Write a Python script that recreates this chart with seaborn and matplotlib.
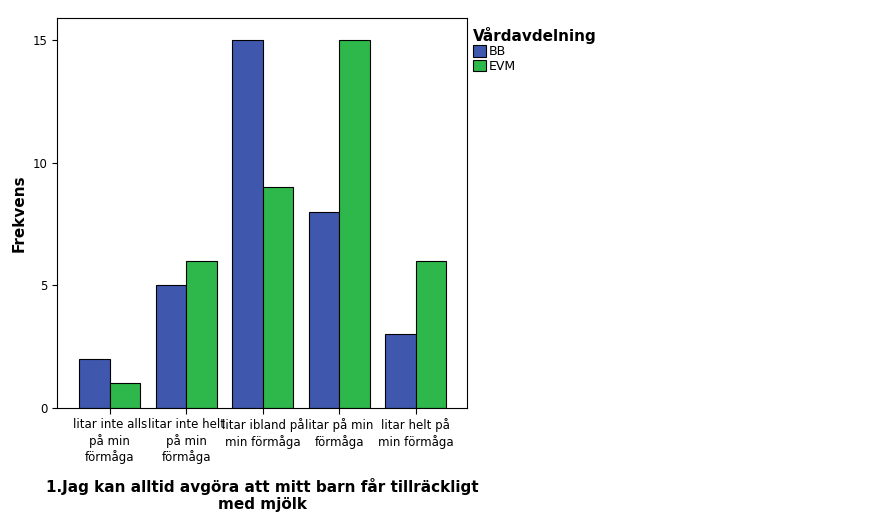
import matplotlib
matplotlib.use("Agg")
import matplotlib.pyplot as plt
import seaborn as sns
import pandas as pd
from matplotlib.patches import Patch

categories = ["litar inte alls\npå min\nförmåga", "litar inte helt\npå min\nförmåga",
              "litar ibland på\nmin förmåga", "litar på min\nförmåga", "litar helt på\nmin förmåga"]
bb = [2, 5, 15, 8, 3]
evm = [1, 6, 9, 15, 6]
series = ["BB", "EVM"]
colors = ["#3F58AE", "#2EB84B"]

df = pd.DataFrame({"cat": categories * 2, "val": bb + evm,
                   "grp": ["BB"] * 5 + ["EVM"] * 5})

fig = plt.figure(figsize=(8.76, 5.13), dpi=100)
ax = fig.add_axes([57/876, 1-408/513, 410/876, 390/513])
sns.barplot(data=df, x="cat", y="val", hue="grp", palette=colors, width=0.8,
            edgecolor="black", linewidth=0.8, ax=ax, legend=False, saturation=1)
ax.set_xlim(-0.69, 4.67)
ax.set_ylim(0, 15.9)
ax.set_yticks([0, 5, 10, 15])
ax.tick_params(axis="both", labelsize=8.5)
ax.tick_params(axis="x", length=4)
ax.set_xlabel("1.Jag kan alltid avgöra att mitt barn får tillräckligt\nmed mjölk",
              fontsize=11, fontweight="bold", labelpad=10)
ax.set_ylabel("Frekvens", fontsize=11, fontweight="bold")
for s in ax.spines.values():
    s.set_linewidth(0.8)
handles = [Patch(facecolor=c, edgecolor="black", linewidth=0.8) for c in colors]
leg = fig.legend(handles, series, title="Vårdavdelning", loc="upper left",
                 bbox_to_anchor=(468/876, 1-22/513), frameon=False, fontsize=9,
                 handlelength=1.0, handleheight=1.0, handletextpad=0.3,
                 labelspacing=0.1, borderaxespad=0)
leg.get_title().set_fontweight("bold")
leg.get_title().set_fontsize(11)
leg._legend_box.align = "left"
fig.savefig("out.png", dpi=100)
